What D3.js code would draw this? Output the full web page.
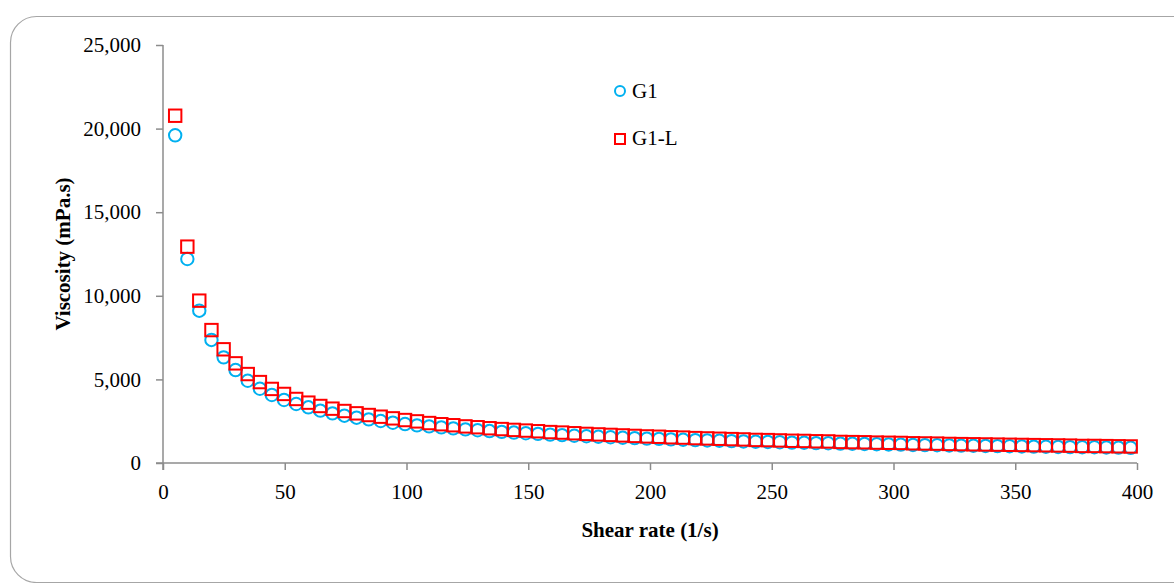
<!DOCTYPE html>
<html>
<head>
<meta charset="utf-8">
<script src="https://cdn.jsdelivr.net/npm/d3@7"></script>
<style>
  html, body { margin: 0; padding: 0; background: #fff; }
  svg { display: block; }
  text { font-family: "Liberation Serif", "DejaVu Serif", serif; fill: #000; }
</style>
</head>
<body>
<svg width="1174" height="583"></svg>
<script>
// shear rate (1/s)
const shearRate = [
  5.0, 10.0, 14.9, 19.9, 24.9, 29.8, 34.8, 39.8, 44.7, 49.7,
  54.7, 59.7, 64.6, 69.6, 74.5, 79.5, 84.5, 89.4, 94.4, 99.4,
  104.3, 109.3, 114.3, 119.2, 124.2, 129.2, 134.1, 139.1, 144.1, 149.0,
  154.0, 159.0, 163.9, 168.9, 173.9, 178.8, 183.8, 188.8, 193.7, 198.7,
  203.7, 208.6, 213.6, 218.6, 223.5, 228.5, 233.5, 238.4, 243.4, 248.4,
  253.3, 258.3, 263.3, 268.2, 273.2, 278.2, 283.1, 288.1, 293.1, 298.0,
  303.0, 308.0, 312.9, 317.9, 322.9, 327.8, 332.8, 337.8, 342.7, 347.7,
  352.7, 357.6, 362.6, 367.6, 372.5, 377.5, 382.5, 387.4, 392.4, 397.4
]

// viscosity (mPa.s), G1
const viscG1 = [
  19600, 12200, 9110, 7360, 6320, 5560, 4920, 4440, 4070, 3770,
  3530, 3330, 3130, 2970, 2830, 2710, 2610, 2510, 2410, 2330,
  2250, 2190, 2130, 2070, 2010, 1960, 1910, 1860, 1820, 1780,
  1740, 1700, 1670, 1630, 1600, 1570, 1540, 1510, 1490, 1460,
  1440, 1410, 1390, 1370, 1350, 1330, 1310, 1290, 1270, 1260,
  1240, 1220, 1210, 1190, 1180, 1160, 1150, 1140, 1120, 1110,
  1100, 1080, 1070, 1060, 1050, 1040, 1030, 1020, 1010, 1000,
  990, 980, 970, 960, 950, 940, 940, 930, 920, 910
]

// viscosity (mPa.s), G1-L
const viscG1L = [
  20770, 12940, 9710, 7950, 6800, 5960, 5320, 4840, 4430, 4130,
  3830, 3610, 3410, 3250, 3110, 2970, 2870, 2770, 2670, 2570,
  2490, 2390, 2320, 2260, 2190, 2140, 2080, 2030, 1980, 1940,
  1900, 1850, 1820, 1780, 1740, 1710, 1680, 1650, 1620, 1590,
  1570, 1540, 1520, 1490, 1470, 1450, 1430, 1410, 1380, 1370,
  1350, 1330, 1320, 1300, 1290, 1260, 1250, 1240, 1220, 1210,
  1200, 1180, 1170, 1160, 1140, 1130, 1120, 1110, 1100, 1090,
  1080, 1070, 1060, 1050, 1040, 1020, 1020, 1010, 1000, 990
]

const xTicks = [0, 50, 100, 150, 200, 250, 300, 350, 400]
const yTicks = [0, 5000, 10000, 15000, 20000, 25000]

const seriesNames = ['G1', 'G1-L']

const svg = d3.select('svg')
const axisColor = '#8c8c8c'

// chart border (rounded, runs off the right/bottom edge)
svg.append('rect')
  .attr('x', 10.5).attr('y', 16.5)
  .attr('width', 1250).attr('height', 566)
  .attr('rx', 26).attr('ry', 26)
  .attr('fill', 'none')
  .attr('stroke', '#a6a6a6')
  .attr('stroke-width', 1.2)

const x = d3.scaleLinear().domain([0, 400]).range([163, 1137])
const y = d3.scaleLinear().domain([0, 25000]).range([463, 45])

// y axis
const yAxis = d3.axisLeft(y)
  .tickValues(yTicks)
  .tickSize(7)
  .tickPadding(15)
  .tickFormat(d3.format(','))

const gy = svg.append('g')
  .attr('transform', `translate(${x(0)},0)`)
  .call(yAxis)
gy.select('.domain').attr('stroke', axisColor).attr('stroke-width', 1.5)
  .attr('d', `M0,${y(25000)}V${y(0) + 7}`)
gy.selectAll('.tick line').attr('stroke', axisColor).attr('stroke-width', 1.5)
gy.selectAll('.tick text')
  .style('font-size', '21px')
  .style('font-family', '"Liberation Serif", serif')
  .attr('fill', '#000')

// x axis
const xAxis = d3.axisBottom(x)
  .tickValues(xTicks)
  .tickSize(7)
  .tickPadding(14)

const gx = svg.append('g')
  .attr('transform', `translate(0,${y(0)})`)
  .call(xAxis)
gx.select('.domain').attr('stroke', axisColor).attr('stroke-width', 1.5)
  .attr('d', `M${x(0) - 7},0H${x(400)}`)
gx.selectAll('.tick line').attr('stroke', axisColor).attr('stroke-width', 1.5)
gx.selectAll('.tick text')
  .style('font-size', '21px')
  .style('font-family', '"Liberation Serif", serif')
  .attr('fill', '#000')

// axis titles
svg.append('text')
  .attr('x', (x(0) + x(400)) / 2)
  .attr('y', 537)
  .attr('text-anchor', 'middle')
  .style('font-size', '21px')
  .style('font-weight', 'bold')
  .text('Shear rate (1/s)')

svg.append('text')
  .attr('transform', `translate(70,${(y(0) + y(25000)) / 2}) rotate(-90)`)
  .attr('text-anchor', 'middle')
  .style('font-size', '21px')
  .style('font-weight', 'bold')
  .text('Viscosity (mPa.s)')

// markers
const pts = shearRate.map((s, i) => ({ s: s, a: viscG1[i], b: viscG1L[i] }))

svg.append('g')
  .selectAll('circle')
  .data(pts)
  .enter()
  .append('circle')
  .attr('cx', (d) => x(d.s))
  .attr('cy', (d) => y(d.a))
  .attr('r', 6.2)
  .attr('fill', 'none')
  .attr('stroke', '#00b0f0')
  .attr('stroke-width', 2)

svg.append('g')
  .selectAll('rect')
  .data(pts)
  .enter()
  .append('rect')
  .attr('x', (d) => x(d.s) - 6.2)
  .attr('y', (d) => y(d.b) - 6.2)
  .attr('width', 12.4)
  .attr('height', 12.4)
  .attr('fill', 'none')
  .attr('stroke', '#ff0000')
  .attr('stroke-width', 2)

// legend
const legend = svg.append('g')
legend.append('circle')
  .attr('cx', 620).attr('cy', 91)
  .attr('r', 5)
  .attr('fill', 'none')
  .attr('stroke', '#00b0f0')
  .attr('stroke-width', 2)
legend.append('rect')
  .attr('x', 615).attr('y', 134)
  .attr('width', 10).attr('height', 10)
  .attr('fill', 'none')
  .attr('stroke', '#ff0000')
  .attr('stroke-width', 2)
legend.selectAll('text')
  .data(seriesNames)
  .enter()
  .append('text')
  .attr('x', 632)
  .attr('y', (d, i) => 98 + i * 47)
  .style('font-size', '21px')
  .text((d) => d)
</script>
</body>
</html>
